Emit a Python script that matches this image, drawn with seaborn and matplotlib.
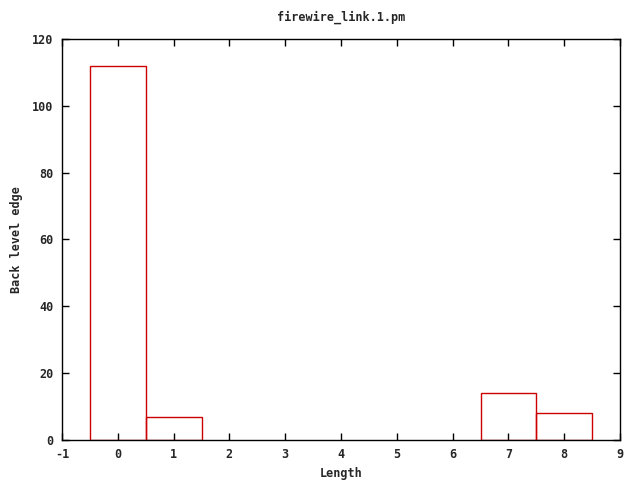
import matplotlib
matplotlib.use("Agg")
import matplotlib.pyplot as plt
import seaborn as sns
import pandas as pd

lengths = [0, 1, 2, 3, 4, 5, 6, 7, 8]
counts = [112, 7, 0, 0, 0, 0, 0, 14, 8]
xticks = [-1, 0, 1, 2, 3, 4, 5, 6, 7, 8, 9]
yticks = [0, 20, 40, 60, 80, 100, 120]

sns.set_style("white")
plt.rcParams['font.family'] = ['DejaVu Sans Mono']
plt.rcParams['font.weight'] = 'bold'

df = pd.DataFrame({"Length": lengths, "Count": counts})

fig = plt.figure(figsize=(6.4, 4.8), dpi=100)
ax = fig.add_axes([62/640, 40/480, 558/640, 401/480])
sns.barplot(data=df, x="Length", y="Count", native_scale=True, width=1.0,
            fill=False, color="#cc0000", linewidth=1.0, ax=ax, errorbar=None)
for p in ax.patches:
    p.set_edgecolor("#cc0000")
    if p.get_height() == 0:
        p.set_visible(False)

ax.set_xlim(-1, 9)
ax.set_ylim(0, 120)
ax.set_xticks(xticks)
ax.set_yticks(yticks)
ax.set_xticklabels([str(t) for t in xticks], fontsize=8.5, fontweight='bold')
ax.set_yticklabels([str(t) for t in yticks], fontsize=8.5, fontweight='bold')
ax.tick_params(direction='in', length=5, width=1, top=True, right=True,
               bottom=True, left=True, color='black', pad=6)
for s in ax.spines.values():
    s.set_visible(True)
    s.set_color('black')
    s.set_linewidth(1)
ax.set_xlabel("Length", fontsize=8.5, fontweight='bold', labelpad=4)
ax.set_ylabel("Back level edge", fontsize=8.5, fontweight='bold', labelpad=7)
ax.set_title("firewire_link.1.pm", fontsize=8.5, fontweight='bold', pad=13)

fig.savefig("out.png", dpi=100)
